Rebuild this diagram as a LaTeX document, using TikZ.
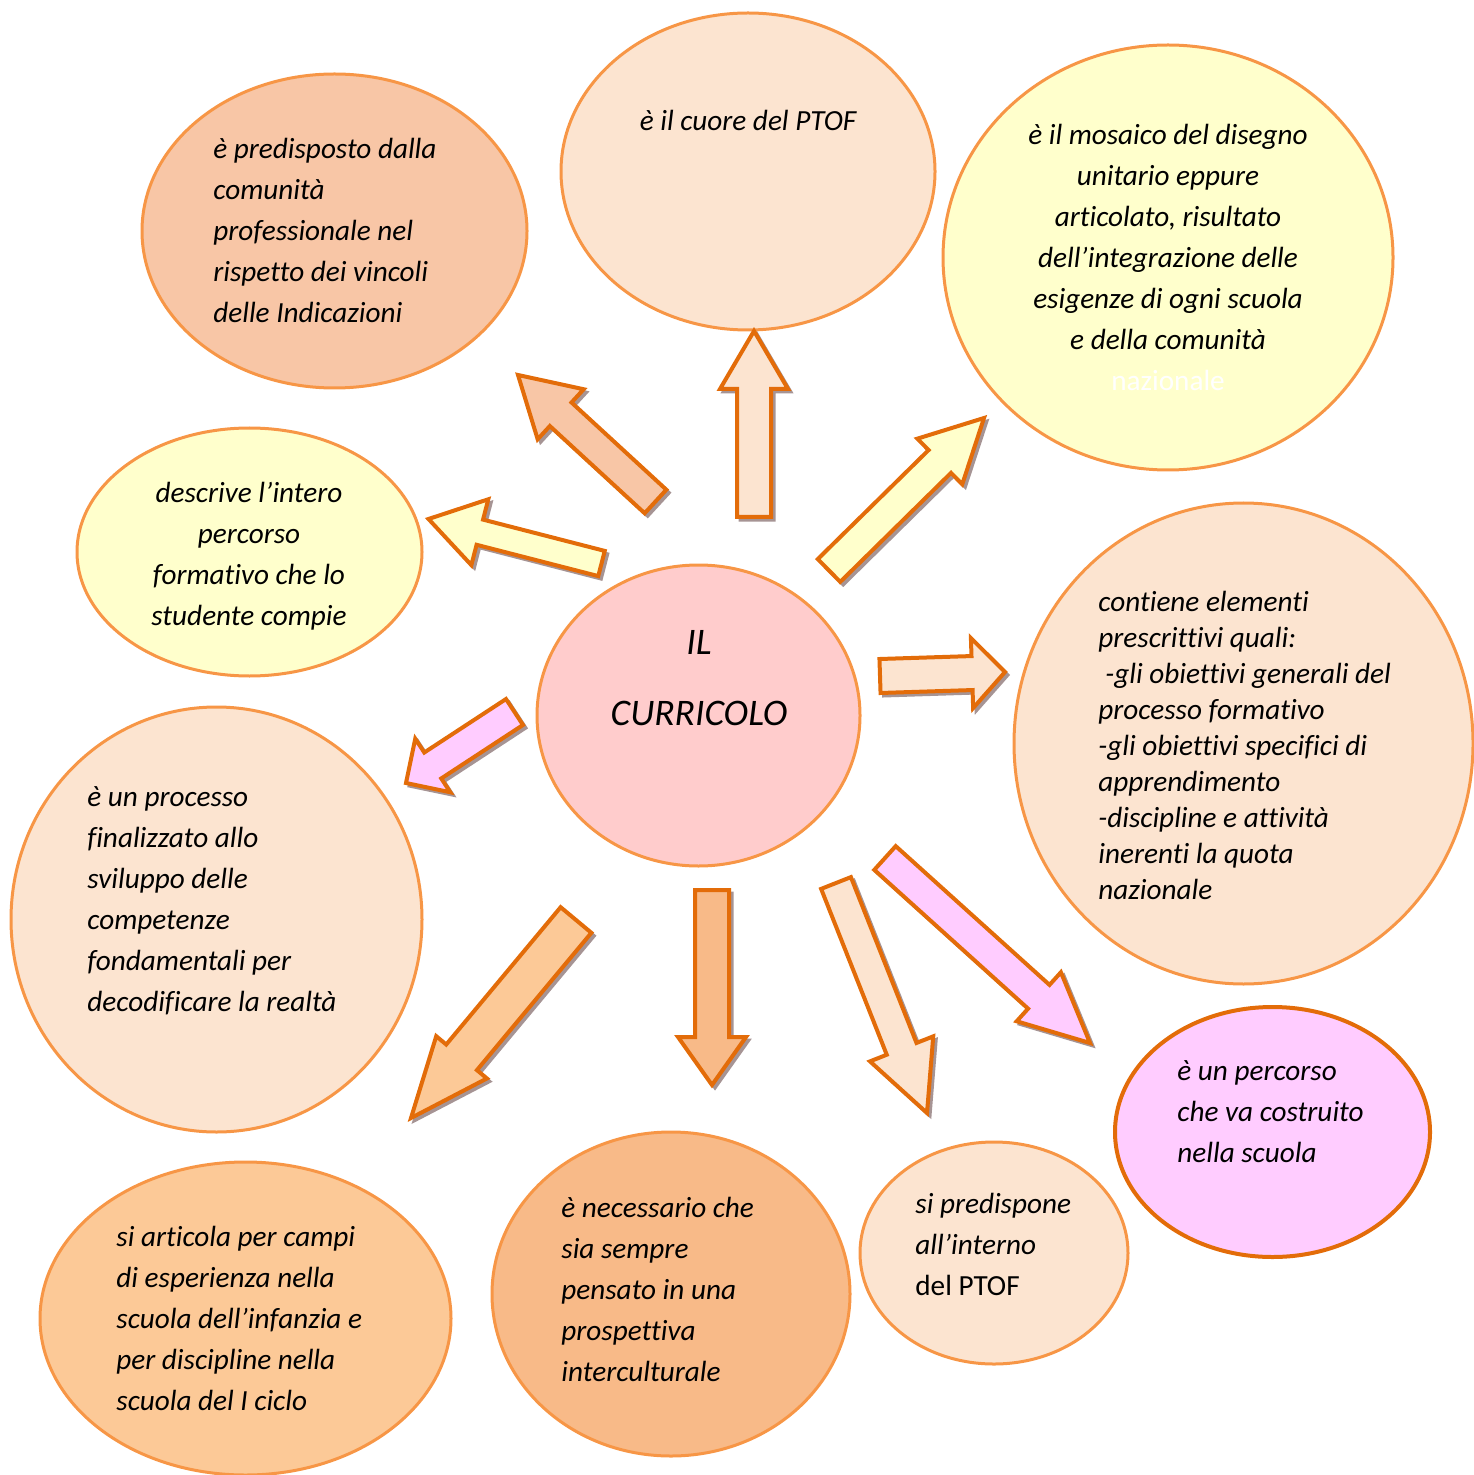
\documentclass[tikz,border=0pt]{standalone}
\usepackage{fontspec}
\setmainfont{Carlito}[Ligatures=NoCommon]
\usetikzlibrary{shapes.geometric,calc}

\definecolor{bordo}{HTML}{F79646}
\definecolor{arancio}{HTML}{E36C09}
\definecolor{ombra}{HTML}{A69494}
\definecolor{pesca}{HTML}{FCE4D0}
\definecolor{salmone}{HTML}{F8C6A6}
\definecolor{giallo}{HTML}{FFFFCC}
\definecolor{rosa}{HTML}{FFCCCC}
\definecolor{lilla}{HTML}{FFCCFF}
\definecolor{albicocca}{HTML}{FCC997}
\definecolor{melone}{HTML}{F8BA88}

\tikzset{
  ovale/.style={ellipse, draw=bordo, line width=1.5pt, inner sep=0pt},
  testo/.style={inner sep=0.75pt, font=\fontsize{14.6}{20.5}\selectfont\itshape},
  blocco/.style={draw=arancio, line width=2pt, line join=miter},
}

% block arrow: tail, tip, fill, half shaft, half head, head length
\newcommand{\frecciona}[6]{%
  \coordinate (cs) at ($(#1)+(3,3)$);
  \coordinate (ps) at ($(#2)+(3,3)$);
  \coordinate (hs) at ($(ps)!#6!(cs)$);
  \filldraw[draw=ombra, fill=ombra, line width=1.5pt] ($(cs)!#4!90:(ps)$) -- ($(hs)!#4!90:(ps)$) -- ($(hs)!#5!90:(ps)$) -- (ps) -- ($(hs)!#5!-90:(ps)$) -- ($(hs)!#4!-90:(ps)$) -- ($(cs)!#4!-90:(ps)$) -- cycle;
  \coordinate (hb) at ($(#2)!#6!(#1)$);
  \filldraw[blocco, fill=#3] ($(#1)!#4!90:(#2)$) -- ($(hb)!#4!90:(#2)$) -- ($(hb)!#5!90:(#2)$) -- (#2) -- ($(hb)!#5!-90:(#2)$) -- ($(hb)!#4!-90:(#2)$) -- ($(#1)!#4!-90:(#2)$) -- cycle;
}

\begin{document}
\begin{tikzpicture}[x=0.5pt,y=0.5pt,yscale=-1]
\useasboundingbox (0,0) rectangle (1473,1475);

% Ellipses
\node[ovale, fill=salmone, minimum width=192.5pt, minimum height=157pt] (predisposto) at (334.5,231) {};
\node[ovale, fill=pesca, minimum width=187pt, minimum height=158.5pt] (cuore) at (748,171.5) {};
\node[ovale, fill=giallo, minimum width=225pt, minimum height=212.5pt] (mosaico) at (1168,257.5) {};
\node[ovale, fill=giallo, minimum width=172.5pt, minimum height=124pt] (descrive) at (249.5,552) {};
\node[ovale, fill=rosa, minimum width=161.5pt, minimum height=150.5pt] (curricolo) at (698.5,715.5) {};
\node[ovale, fill=pesca, minimum width=229.5pt, minimum height=240.5pt] (contiene) at (1243.5,743.5) {};
\node[ovale, fill=pesca, minimum width=205.5pt, minimum height=212.5pt] (processo) at (216.5,919.5) {};
\node[ovale, fill=lilla, draw=arancio, line width=2pt, minimum width=157.5pt, minimum height=125pt] (percorso) at (1272.5,1132) {};
\node[ovale, fill=albicocca, minimum width=205.5pt, minimum height=156.5pt] (articola) at (245.5,1318.5) {};
\node[ovale, fill=melone, minimum width=179pt, minimum height=162pt] (necessario) at (671,1294) {};
\node[ovale, fill=pesca, minimum width=134pt, minimum height=111pt] (predispone) at (994,1253) {};

% Text Node
\node[testo, anchor=north west, align=left] (t-predisposto) at (211.5,136) {è predisposto dalla\\comunità\\professionale nel\\rispetto dei vincoli\\delle Indicazioni};
% Text Node
\node[testo, anchor=north, align=center] (t-cuore) at (748,108) {è il cuore del PTOF};
% Text Node
\node[testo, anchor=north, align=center] (t-mosaico) at (1168,122) {è il mosaico del disegno\\unitario eppure\\articolato, risultato\\dell’integrazione delle\\esigenze di ogni scuola\\e della comunità\\{\upshape\color{white}nazionale}};
% Text Node
\node[testo, anchor=north, align=center] (t-descrive) at (249,480) {descrive l’intero\\percorso\\formativo che lo\\studente compie};
% Text Node
\node[testo, anchor=north, align=center, font=\fontsize{18.75}{35.5}\selectfont\itshape] (t-curricolo) at (699,629) {IL\\CURRICOLO};
% Text Node
\node[testo, anchor=north west, align=left, font=\fontsize{14.6}{18}\selectfont\itshape] (t-contiene) at (1096.5,589) {contiene elementi\\prescrittivi quali:\\\hspace*{3.5pt}-gli obiettivi generali del\\processo formativo\\-gli obiettivi specifici di\\apprendimento\\-discipline e attività\\inerenti la quota\\nazionale};
% Text Node
\node[testo, anchor=north west, align=left] (t-processo) at (85.5,785) {è un processo\\finalizzato allo\\sviluppo delle\\competenze\\fondamentali per\\decodificare la realtà};
% Text Node
\node[testo, anchor=north west, align=left] (t-percorso) at (1175.5,1059) {è un percorso\\che va costruito\\nella scuola};
% Text Node
\node[testo, anchor=north west, align=left] (t-articola) at (114.5,1224) {si articola per campi\\di esperienza nella\\scuola dell’infanzia e\\per discipline nella\\scuola del I ciclo};
% Text Node
\node[testo, anchor=north west, align=left] (t-necessario) at (559.5,1195) {è necessario che\\sia sempre\\pensato in una\\prospettiva\\interculturale};
% Text Node
\node[testo, anchor=north west, align=left] (t-predispone) at (913.5,1191) {si predispone\\all’interno\\{\upshape del PTOF}};

% Arrow ends
\coordinate (c1) at (754,517);   \coordinate (p1) at (754,331);
\coordinate (c2) at (655.5,501.5); \coordinate (p2) at (518,375);
\coordinate (c3) at (601.5,563.5); \coordinate (p3) at (428.5,519);
\coordinate (c4) at (829,570.5); \coordinate (p4) at (984,418);
\coordinate (c5) at (880,676);   \coordinate (p5) at (1005,672);
\coordinate (c6) at (514.5,712); \coordinate (p6) at (406,783);
\coordinate (c7) at (576,920);   \coordinate (p7) at (411,1118);
\coordinate (c8) at (712,890);   \coordinate (p8) at (712,1085);
\coordinate (c9) at (836,883);   \coordinate (p9) at (927,1113);
\coordinate (c10) at (885,858);  \coordinate (p10) at (1090,1043);

% Block arrows
\frecciona{c1}{p1}{pesca}{8.5pt}{17pt}{29pt}
\frecciona{c2}{p2}{salmone}{8pt}{17pt}{29pt}
\frecciona{c3}{p3}{giallo}{6.5pt}{17pt}{26.5pt}
\frecciona{c4}{p4}{giallo}{8pt}{16pt}{31pt}
\frecciona{c5}{p5}{pesca}{8.5pt}{17.5pt}{16.5pt}
\frecciona{c6}{p6}{lilla}{7.75pt}{16pt}{16pt}
\frecciona{c7}{p7}{albicocca}{10pt}{16.5pt}{39.5pt}
\frecciona{c8}{p8}{melone}{8.5pt}{17pt}{24pt}
\frecciona{c9}{p9}{pesca}{8pt}{17pt}{34.5pt}
\frecciona{c10}{p10}{lilla}{8pt}{16.5pt}{34.5pt}

\end{tikzpicture}
\end{document}
